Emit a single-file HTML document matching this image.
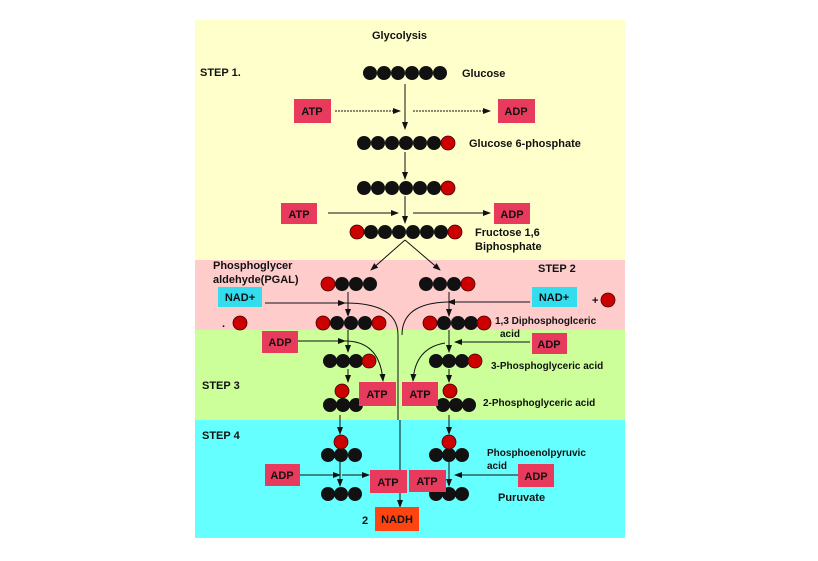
<!DOCTYPE html>
<html><head><style>body{margin:0;background:#fff}svg{display:block}text{font-family:"Liberation Sans",sans-serif;font-size:11px;font-weight:bold;fill:#111}</style></head><body>
<svg width="818" height="561" viewBox="0 0 818 561">
<defs><marker id="a" markerWidth="8" markerHeight="8" refX="7" refY="4" orient="auto" markerUnits="userSpaceOnUse"><path d="M0,1 L8,4 L0,7z" fill="#111"/></marker></defs>
<rect x="195" y="20" width="430" height="240" fill="#ffffcc"/>
<rect x="195" y="260" width="430" height="70" fill="#ffcccc"/>
<rect x="195" y="330" width="430" height="90" fill="#ccff99"/>
<rect x="195" y="420" width="430" height="118" fill="#66ffff"/>
<g fill="#111">
<circle cx="370" cy="73" r="7"/><circle cx="384" cy="73" r="7"/><circle cx="398" cy="73" r="7"/><circle cx="412" cy="73" r="7"/><circle cx="426" cy="73" r="7"/><circle cx="440" cy="73" r="7"/>
<circle cx="364" cy="143" r="7"/><circle cx="378" cy="143" r="7"/><circle cx="392" cy="143" r="7"/><circle cx="406" cy="143" r="7"/><circle cx="420" cy="143" r="7"/><circle cx="434" cy="143" r="7"/>
<circle cx="364" cy="188" r="7"/><circle cx="378" cy="188" r="7"/><circle cx="392" cy="188" r="7"/><circle cx="406" cy="188" r="7"/><circle cx="420" cy="188" r="7"/><circle cx="434" cy="188" r="7"/>
<circle cx="371" cy="232" r="7"/><circle cx="385" cy="232" r="7"/><circle cx="399" cy="232" r="7"/><circle cx="413" cy="232" r="7"/><circle cx="427" cy="232" r="7"/><circle cx="441" cy="232" r="7"/>
<circle cx="342" cy="284" r="7"/><circle cx="356" cy="284" r="7"/><circle cx="370" cy="284" r="7"/>
<circle cx="426" cy="284" r="7"/><circle cx="440" cy="284" r="7"/><circle cx="454" cy="284" r="7"/>
<circle cx="337" cy="323" r="7"/><circle cx="351" cy="323" r="7"/><circle cx="365" cy="323" r="7"/>
<circle cx="444" cy="323" r="7"/><circle cx="458" cy="323" r="7"/><circle cx="471" cy="323" r="7"/>
<circle cx="330" cy="361" r="7"/><circle cx="343" cy="361" r="7"/><circle cx="356" cy="361" r="7"/>
<circle cx="436" cy="361" r="7"/><circle cx="449" cy="361" r="7"/><circle cx="462" cy="361" r="7"/>
<circle cx="330" cy="405" r="7"/><circle cx="343" cy="405" r="7"/><circle cx="356" cy="405" r="7"/>
<circle cx="443" cy="405" r="7"/><circle cx="456" cy="405" r="7"/><circle cx="469" cy="405" r="7"/>
<circle cx="328" cy="455" r="7"/><circle cx="341" cy="455" r="7"/><circle cx="355" cy="455" r="7"/>
<circle cx="436" cy="455" r="7"/><circle cx="449" cy="455" r="7"/><circle cx="462" cy="455" r="7"/>
<circle cx="328" cy="494" r="7"/><circle cx="341" cy="494" r="7"/><circle cx="355" cy="494" r="7"/>
<circle cx="436" cy="494" r="7"/><circle cx="449" cy="494" r="7"/><circle cx="462" cy="494" r="7"/>
</g>
<g fill="#cc0000" stroke="#400" stroke-width="0.8">
<circle cx="448" cy="143" r="7"/><circle cx="448" cy="188" r="7"/>
<circle cx="357" cy="232" r="7"/><circle cx="455" cy="232" r="7"/>
<circle cx="328" cy="284" r="7"/><circle cx="468" cy="284" r="7"/>
<circle cx="323" cy="323" r="7"/><circle cx="379" cy="323" r="7"/>
<circle cx="430" cy="323" r="7"/><circle cx="484" cy="323" r="7"/>
<circle cx="369" cy="361" r="7"/><circle cx="475" cy="361" r="7"/>
<circle cx="342" cy="391" r="7"/><circle cx="450" cy="391" r="7"/>
<circle cx="341" cy="442" r="7"/><circle cx="449" cy="442" r="7"/>
<circle cx="608" cy="300" r="7"/><circle cx="240" cy="323" r="7"/>
</g>
<g stroke="#111" stroke-width="1" fill="none" marker-end="url(#a)">
<line x1="405" y1="84" x2="405" y2="129"/>
<line x1="335" y1="111" x2="400" y2="111" stroke-dasharray="2,1"/>
<line x1="413" y1="111" x2="490" y2="111" stroke-dasharray="2,1"/>
<line x1="405" y1="152" x2="405" y2="179"/>
<line x1="405" y1="196" x2="405" y2="223"/>
<line x1="328" y1="213" x2="398" y2="213"/>
<line x1="413" y1="213" x2="490" y2="213"/>
<line x1="405" y1="240" x2="371" y2="270"/>
<line x1="405" y1="240" x2="440" y2="270"/>
<path d="M265,303 L345,303"/>
<path d="M530,302 L448,302"/>
<line x1="348" y1="292" x2="348" y2="316"/>
<line x1="449" y1="292" x2="449" y2="316"/>
<path d="M298,341 L345,341"/>
<path d="M530,342 L455,342"/>
<line x1="348" y1="330" x2="348" y2="352"/>
<line x1="449" y1="330" x2="449" y2="352"/>
<path d="M345,341 Q380,341 383,381"/>
<path d="M445,343 Q415,348 413,381"/>
<line x1="348" y1="369" x2="348" y2="382"/>
<line x1="449" y1="369" x2="449" y2="382"/>
<line x1="340" y1="415" x2="340" y2="434"/>
<line x1="449" y1="415" x2="449" y2="434"/>
<path d="M300,475 L340,475"/>
<path d="M342,475 L369,475"/>
<line x1="340" y1="462" x2="340" y2="486"/>
<line x1="449" y1="462" x2="449" y2="486"/>
<path d="M518,475 L455,475"/>
<path d="M400,420 L400,507"/>
</g>
<g stroke="#111" stroke-width="1" fill="none">
<path d="M345,303 Q398,303 398,335 L398,420"/>
<path d="M448,302 Q402,303 402,335"/>
</g>
<g fill="#e83a5c">
<rect x="294" y="99" width="37" height="24"/><rect x="498" y="99" width="37" height="24"/>
<rect x="281" y="203" width="36" height="21"/><rect x="494" y="203" width="36" height="21"/>
<rect x="262" y="331" width="36" height="22"/><rect x="532" y="333" width="35" height="21"/>
<rect x="359" y="382" width="37" height="24"/><rect x="402" y="382" width="36" height="24"/>
<rect x="265" y="464" width="35" height="22"/><rect x="518" y="464" width="36" height="23"/>
<rect x="370" y="470" width="37" height="23"/><rect x="409" y="470" width="37" height="22"/>
</g>
<rect x="218" y="287" width="44" height="20" fill="#33ddee"/>
<rect x="532" y="287" width="45" height="20" fill="#33ddee"/>
<rect x="375" y="507" width="44" height="24" fill="#ff4411"/>
<g text-anchor="middle">
<text x="312" y="115">ATP</text><text x="516" y="115" fill="#fdd">ADP</text>
<text x="299" y="218">ATP</text><text x="512" y="218" fill="#fdd">ADP</text>
<text x="280" y="346" fill="#fdd">ADP</text><text x="549" y="348" fill="#fdd">ADP</text>
<text x="377" y="398">ATP</text><text x="420" y="398">ATP</text>
<text x="282" y="479" fill="#fdd">ADP</text><text x="536" y="480" fill="#fdd">ADP</text>
<text x="388" y="486">ATP</text><text x="427" y="485">ATP</text>
<text x="240" y="301">NAD+</text><text x="554" y="301">NAD+</text>
<text x="397" y="523">NADH</text>
</g>
<text x="372" y="39">Glycolysis</text>
<text x="200" y="76">STEP 1.</text>
<text x="462" y="77">Glucose</text>
<text x="469" y="147">Glucose 6-phosphate</text>
<text x="475" y="236">Fructose 1,6</text>
<text x="475" y="250">Biphosphate</text>
<text x="213" y="269">Phosphoglycer</text>
<text x="213" y="283">aldehyde(PGAL)</text>
<text x="538" y="272">STEP 2</text>
<text x="592" y="304">+</text>
<text x="222" y="327">.</text>
<text x="495" y="324" style="font-size:10px">1,3 Diphosphoglceric</text>
<text x="500" y="337" style="font-size:10px">acid</text>
<text x="491" y="369" style="font-size:10px">3-Phosphoglyceric acid</text>
<text x="202" y="389">STEP 3</text>
<text x="483" y="406" style="font-size:10px">2-Phosphoglyceric acid</text>
<text x="202" y="439">STEP 4</text>
<text x="487" y="456" style="font-size:10px">Phosphoenolpyruvic</text>
<text x="487" y="469" style="font-size:10px">acid</text>
<text x="498" y="501">Puruvate</text>
<text x="362" y="524">2</text>
</svg>
</body></html>
